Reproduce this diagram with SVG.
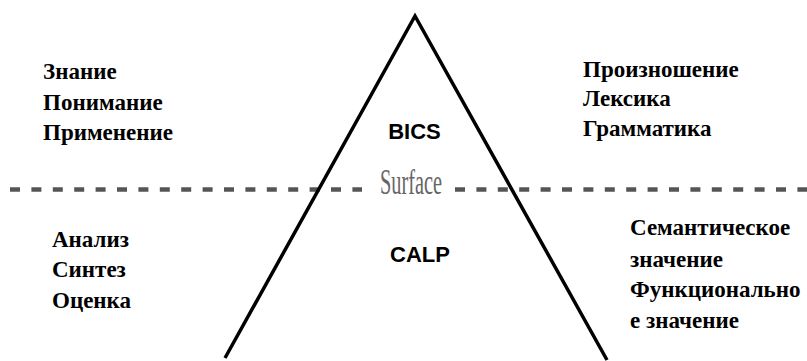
<svg xmlns="http://www.w3.org/2000/svg" width="807" height="361" viewBox="0 0 807 361">
<style>
.lbl{font-family:"Liberation Serif","Times New Roman",serif;font-weight:bold;font-size:23px;fill:#000}
.tag{font-family:"Liberation Sans",Arial,sans-serif;font-weight:bold;font-size:22px;fill:#000;text-anchor:middle}
.dash{stroke:#555;stroke-width:4.5;stroke-dasharray:10 11.4;fill:none}
</style>
<rect width="807" height="361" fill="#fff"/>
<g id="surface-line">
<line class="dash" x1="10" y1="189.5" x2="362" y2="189.5"/>
<line class="dash" x1="455" y1="189.5" x2="807" y2="189.5"/>
<text x="380" y="194" font-family="Liberation Serif,'Times New Roman',serif" font-size="35" fill="#666" textLength="62" lengthAdjust="spacingAndGlyphs">Surface</text>
</g>
<g id="triangle">
<polyline points="225,358 415,16 607,360" fill="none" stroke="#000" stroke-width="3.5" stroke-linejoin="miter"/>
</g>
<g id="bics"><text class="tag" x="414.5" y="139">BICS</text></g>
<g id="calp"><text class="tag" x="420" y="262">CALP</text></g>
<g id="left-top">
<text class="lbl" x="43" y="79">Знание</text>
<text class="lbl" x="43" y="110">Понимание</text>
<text class="lbl" x="43" y="140">Применение</text>
</g>
<g id="right-top">
<text class="lbl" x="583" y="77">Произношение</text>
<text class="lbl" x="583" y="106">Лексика</text>
<text class="lbl" x="583" y="136">Грамматика</text>
</g>
<g id="left-bottom">
<text class="lbl" x="52" y="247">Анализ</text>
<text class="lbl" x="52" y="277">Синтез</text>
<text class="lbl" x="52" y="308">Оценка</text>
</g>
<g id="right-bottom">
<text class="lbl" x="630" y="235">Семантическое</text>
<text class="lbl" x="630" y="267">значение</text>
<text class="lbl" x="630" y="297">Функционально</text>
<text class="lbl" x="630" y="328">е значение</text>
</g>
</svg>
